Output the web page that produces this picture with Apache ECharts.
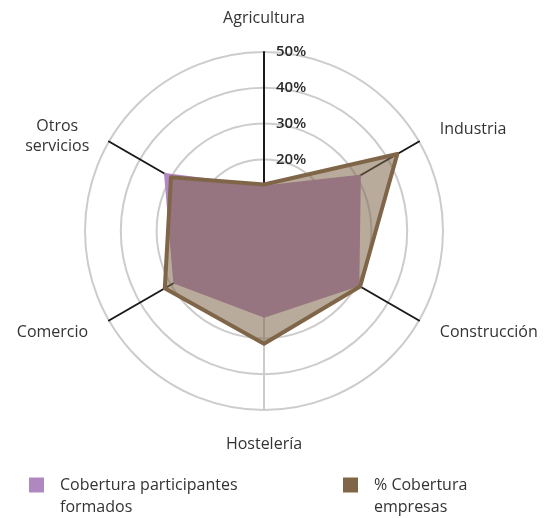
<!DOCTYPE html>
<html>
<head>
<meta charset="utf-8">
<script src="https://cdn.jsdelivr.net/npm/echarts@6/dist/echarts.min.js"></script>
<style>
  html, body { margin: 0; padding: 0; background: #fff; }
  #radar { width: 549px; height: 518px; }
</style>
</head>
<body>
<div id="radar"></div>
<script>
var dom = document.getElementById('radar');
var myChart = echarts.init(dom);

// sectores, en el orden en que ECharts los reparte (antihorario desde arriba)
var sectores = ['Agricultura', 'Otros\nservicios', 'Comercio', 'Hostelería', 'Construcción', 'Industria'];
var maximo = 50;
var ticks = [20, 30, 40, 50];

// % cobertura por sector (mismo orden)
var participantes = [12.5, 32, 29, 24, 30.5, 31];
var empresas = [13, 30, 32, 31.5, 31, 43];

var nombres = ['Cobertura participantes formados', '% Cobertura empresas'];
// la línea vacía de arriba deja la primera línea a la altura del cuadrado
var etiquetasLeyenda = ['\nCobertura participantes\nformados', '\n% Cobertura\nempresas'];

var fuente = '"Open Sans"';

var indicadores = sectores.map(function (s, i) {
    var ind = { name: s, max: maximo, min: 0 };
    if (i === 0) {
        ind.axisLabel = {
            show: true,
            margin: -12,
            align: 'left',
            color: '#2b2b2b',
            fontSize: 15,
            fontWeight: 600,
            fontFamily: fuente,
            formatter: function (v) {
                return ticks.indexOf(v) >= 0 ? v + '%' : '';
            }
        };
    }
    if (s === 'Hostelería') {
        ind.axisLine = { lineStyle: { color: '#cccccc' } };
    }
    return ind;
});

function leyenda(i, left) {
    return {
        data: [nombres[i]],
        left: left,
        top: 447,
        icon: 'rect',
        itemWidth: 15,
        itemHeight: 15,
        selectedMode: false,
        formatter: function () { return etiquetasLeyenda[i]; },
        textStyle: {
            color: '#333',
            fontSize: 16,
            fontFamily: fuente,
            lineHeight: 22,
            padding: [0, 0, 0, 11]
        }
    };
}

var estiloNombre = { color: '#333', fontSize: 16, fontFamily: fuente, lineHeight: 20 };

var option = {
    animation: false,
    legend: [leyenda(0, 24), leyenda(1, 338)],
    radar: {
        center: [264, 231],
        radius: 179,
        startAngle: 90,
        shape: 'circle',
        splitNumber: 5,
        indicator: indicadores,
        nameGap: 24,
        axisName: {
            color: '#333',
            fontSize: 16,
            fontFamily: fuente,
            lineHeight: 20,
            // nombres de dos líneas centrados entre sí
            formatter: function (name) {
                if (name.indexOf('\n') < 0) return name;
                return '{e| }\n' + name.split('\n').map(function (l) {
                    return '{c|' + l + '}';
                }).join('\n');
            },
            rich: {
                e: { fontSize: 4, lineHeight: 14 },
                c: Object.assign({ width: 62, align: 'center' }, estiloNombre)
            }
        },
        splitLine: { lineStyle: { color: '#cccccc', width: 2 } },
        splitArea: { show: false },
        axisLine: { lineStyle: { color: '#1a1a1a', width: 2 } },
        axisTick: { show: false },
        axisLabel: { show: false }
    },
    series: [{
        type: 'radar',
        symbol: 'none',
        data: [{
            name: nombres[0],
            value: participantes,
            itemStyle: { color: '#b088c0' },
            lineStyle: { color: '#b088c0', width: 1.5 },
            areaStyle: { color: '#b287c4', opacity: 1 }
        }, {
            name: nombres[1],
            value: empresas,
            itemStyle: { color: '#806648' },
            lineStyle: { color: '#806648', width: 4 },
            areaStyle: { color: '#806648', opacity: 0.55 }
        }]
    }]
};

if (option && typeof option === 'object') {
    myChart.setOption(option);
}
</script>
</body>
</html>
